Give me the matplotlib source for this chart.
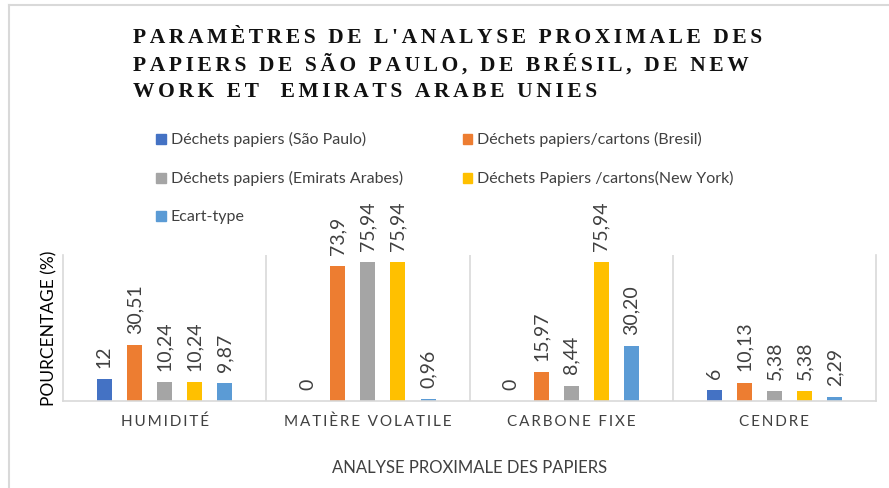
import matplotlib
matplotlib.use("Agg")
import matplotlib.pyplot as plt
from matplotlib.patches import Patch
from matplotlib.lines import Line2D
import numpy as np

# data
categories = ["HUMIDITÉ", "MATIÈRE VOLATILE", "CARBONE FIXE", "CENDRE"]
series_names = ["Déchets papiers (São Paulo)",
                "Déchets papiers/cartons (Bresil)",
                "Déchets papiers (Emirats Arabes)",
                "Déchets Papiers /cartons(New York)",
                "Ecart-type"]
sao_paulo = [12, 0, 0, 6]
bresil = [30.51, 73.9, 15.97, 10.13]
emirats = [10.24, 75.94, 8.44, 5.38]
new_york = [10.24, 75.94, 75.94, 5.38]
ecart_type = [9.87, 0.96, 30.20, 2.29]
sao_paulo_lbl = ["12", "0", "0", "6"]
bresil_lbl = ["30,51", "73,9", "15,97", "10,13"]
emirats_lbl = ["10,24", "75,94", "8,44", "5,38"]
new_york_lbl = ["10,24", "75,94", "75,94", "5,38"]
ecart_type_lbl = ["9,87", "0,96", "30,20", "2,29"]

colors = ["#4472C4", "#ED7D31", "#A5A5A5", "#FFC000", "#5B9BD5"]
series = [sao_paulo, bresil, emirats, new_york, ecart_type]
labels = [sao_paulo_lbl, bresil_lbl, emirats_lbl, new_york_lbl, ecart_type_lbl]

SANS = ["Lato", "DejaVu Sans"]
GRID = "#D9D9D9"

def spaced(s, sep="\u2009"):
    return sep.join(s)

fig = plt.figure(figsize=(8.89, 4.88), dpi=100)
ax = fig.add_axes([63/889, 87/488, 813/889, 146/488])

x = np.arange(len(categories))
step = 0.148
width = 0.074
for i, (vals, lbls) in enumerate(zip(series, labels)):
    pos = x + (i - 2) * step
    ax.bar(pos, vals, width, color=colors[i], zorder=2)
    for px, v, t in zip(pos, vals, lbls):
        ax.annotate(t, (px, v), xytext=(0, 8), textcoords="offset points",
                    rotation=90, ha="center", va="bottom", fontsize=14,
                    family=SANS, color="#404040")

ax.set_xlim(-0.5, 3.5)
ax.set_ylim(0, 80)
for b in [0.5, 1.5, 2.5]:
    ax.axvline(b, color=GRID, lw=1.2, zorder=1)
ax.spines["top"].set_visible(False)
for s in ["left", "right", "bottom"]:
    ax.spines[s].set_color(GRID)
    ax.spines[s].set_linewidth(1.2)
ax.set_yticks([])
ax.set_xticks(x)
ax.set_xticklabels([spaced(c) for c in categories], family=SANS, fontsize=11,
                   color="#404040")
ax.tick_params(axis="x", length=0, pad=10)
ax.set_xlabel("ANALYSE PROXIMALE DES PAPIERS", family=SANS, fontsize=12,
              color="#404040", labelpad=22)
ax.set_ylabel("POURCENTAGE (%)", family=SANS, fontsize=12.5, color="#000000",
              labelpad=4)

title_lines = ["PARAMÈTRES DE L'ANALYSE PROXIMALE DES",
               "PAPIERS DE SÃO PAULO, DE BRÉSIL, DE NEW",
               "WORK ET  EMIRATS ARABE UNIES"]
for k, line in enumerate(title_lines):
    fig.text(133/889, 1 - (38 + 27*k)/488, spaced(line, "\u2006"),
             family=["Liberation Serif", "DejaVu Serif"],
             fontweight="bold", fontsize=15.5, ha="left", va="center", color="#111111")

handles = [Patch(color=c) for c in colors]
order = [0, 2, 4, 1, 3]
leg = fig.legend([handles[i] for i in order], [series_names[i] for i in order],
                 ncol=2, loc="upper left", bbox_to_anchor=(142/889, 1 - 118/488),
                 frameon=False, prop={"family": SANS, "size": 11.5},
                 handlelength=0.6, handleheight=0.6, handletextpad=0.3,
                 labelspacing=1.5, columnspacing=3.75)
for t in leg.get_texts():
    t.set_color("#404040")

fig.add_artist(Line2D([9/889, 9/889], [0, 1 - 5/488], color=GRID, lw=1.5))
fig.add_artist(Line2D([9/889, 1], [1 - 5/488, 1 - 5/488], color=GRID, lw=1.5))

fig.savefig("out.png", dpi=100)
